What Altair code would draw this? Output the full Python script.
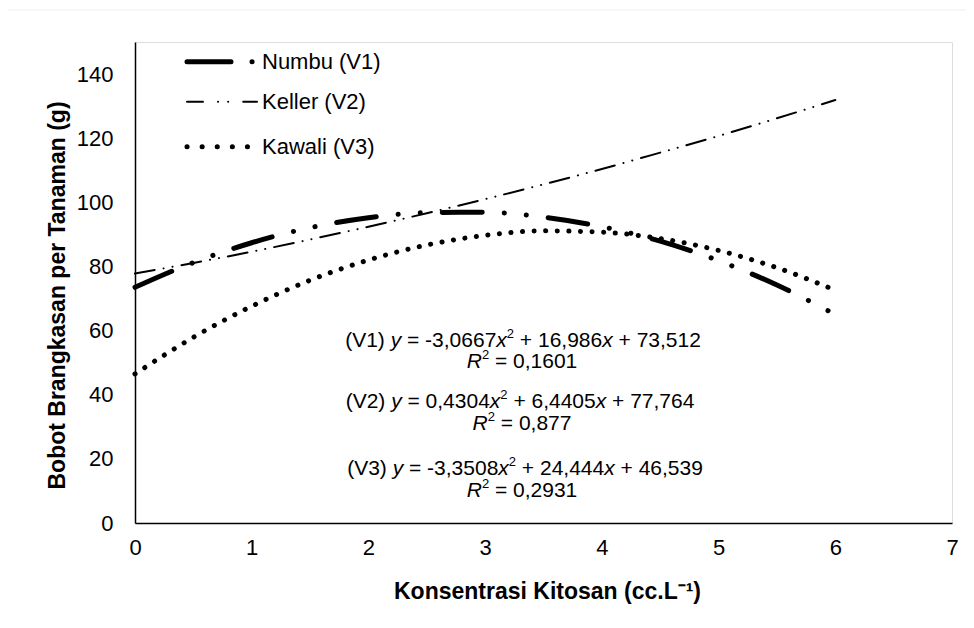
import altair as alt
import pandas as pd

# ---------------- data ----------------
x_vals = [0, 0.5, 1, 1.5, 2, 2.5, 3, 3.5, 4, 4.5, 5, 5.5, 6]
numbu = [73.5, 81.2, 87.4, 92.1, 95.2, 96.8, 96.9, 95.4, 92.4, 87.9, 81.8, 74.2, 65.0]
keller = [77.8, 81.1, 84.6, 88.4, 92.4, 96.6, 101.0, 105.6, 110.4, 115.5, 120.7, 126.2, 131.9]
kawali = [46.5, 57.9, 67.6, 75.7, 82.0, 86.7, 89.7, 91.1, 90.7, 88.7, 85.0, 79.6, 72.6]
series_names = ["Numbu (V1)", "Keller (V2)", "Kawali (V3)"]

x_ticks = [0, 1, 2, 3, 4, 5, 6, 7]
y_ticks = [0, 20, 40, 60, 80, 100, 120, 140]

# equation annotations: (text, style) with n=normal, i=italic, s=superscript
eq_lines = [
    [("(V1) ", "n"), ("y", "i"), (" = -3,0667", "n"), ("x", "i"), ("2", "s"), (" + 16,986", "n"), ("x", "i"), (" + 73,512", "n")],
    [("R", "i"), ("2", "s"), (" = 0,1601", "n")],
    [("(V2) ", "n"), ("y", "i"), (" = 0,4304", "n"), ("x", "i"), ("2", "s"), (" + 6,4405", "n"), ("x", "i"), (" + 77,764", "n")],
    [("R", "i"), ("2", "s"), (" = 0,877", "n")],
    [("(V3) ", "n"), ("y", "i"), (" = -3,3508", "n"), ("x", "i"), ("2", "s"), (" + 24,444", "n"), ("x", "i"), (" + 46,539", "n")],
    [("R", "i"), ("2", "s"), (" = 0,2931", "n")],
]

# ---------------- styling / layout ----------------
W, H = 817, 481
XMAX, YMAX = 7, 150
EQ_SIZE, SUP_SIZE = 21, 13
eq_centers = [(388, 299), (387, 320), (385, 360), (387, 382), (390, 427), (387, 449)]  # plot px
FONT = "Liberation Sans"

line_dash = [[40, 22, 0.1, 22, 0.1, 22], [20, 9, 0.1, 9, 0.1, 9], [0.1, 11.5]]
line_width = [5, 2, 5]
legend_dash = [[44, 21, 0.1, 30], [16, 15, 0.1, 10, 0.1, 15], [0.1, 15]]
legend_rows = [19.7, 59.7, 104.7]

ARIAL = {' ': 278, '(': 333, ')': 333, 'V': 667, '=': 584, '+': 584, '-': 333,
         ',': 278, '.': 278, 'x': 500, 'y': 500, 'R': 722}


def tw(s, size):
    return sum(ARIAL.get(c, 556) for c in s) * size / 1000


seg_rows = []
for segs, (cx, cy) in zip(eq_lines, eq_centers):
    total = sum(tw(t, SUP_SIZE if st == "s" else EQ_SIZE) for t, st in segs)
    px = cx - total / 2
    for t, st in segs:
        size = SUP_SIZE if st == "s" else EQ_SIZE
        py = cy - 7 if st == "s" else cy
        lead = len(t) - len(t.lstrip(" "))
        sx = px + tw(" " * lead, size)
        seg_rows.append({"x": sx * XMAX / W, "y": YMAX - py * YMAX / H,
                         "text": t.strip(" "), "style": st})
        px += tw(t, size)
seg_df = pd.DataFrame(seg_rows)

rows = []
for name, vals in zip(series_names, [numbu, keller, kawali]):
    for xv, yv in zip(x_vals, vals):
        rows.append({"x": xv, "y": yv, "series": name})
df = pd.DataFrame(rows)

xscale = alt.Scale(domain=[0, XMAX], nice=False, zero=False)
yscale = alt.Scale(domain=[0, YMAX], nice=False, zero=False)

xaxis = alt.Axis(values=x_ticks, title="Konsentrasi Kitosan (cc.L⁻¹)", grid=False, ticks=False,
                 domainColor="black", domainWidth=1.5, labelFlush=False, labelOverlap=False,
                 labelFontSize=22, labelFont=FONT, labelColor="black", labelPadding=14,
                 titleFont=FONT, titleFontSize=23, titleFontWeight="bold", titleColor="black",
                 titleX=412, titleY=75, titleBaseline="alphabetic", titleAlign="center")
yaxis = alt.Axis(values=y_ticks, title="Bobot Brangkasan per Tanaman (g)", grid=False, ticks=False,
                 domainColor="black", domainWidth=1.5, labelFlush=False, labelOverlap=False,
                 labelFontSize=22, labelFont=FONT, labelColor="black", labelPadding=22,
                 titleFont=FONT, titleFontSize=23, titleFontWeight="bold", titleColor="black",
                 titleX=-78, titleY=253, titleBaseline="middle", titleAlign="center", titleAngle=270)

X = alt.X("x:Q", scale=xscale, axis=xaxis)
Y = alt.Y("y:Q", scale=yscale, axis=yaxis)

line_layers = []
for name, dash, wdt in zip(series_names, line_dash, line_width):
    line_layers.append(
        alt.Chart(df[df["series"] == name]).mark_line(
            color="black", strokeCap="round", strokeWidth=wdt, strokeDash=dash, interpolate="monotone"
        ).encode(x=X, y=Y))

base_txt = alt.Chart(seg_df)
txt_n = base_txt.transform_filter(alt.datum.style == "n").mark_text(
    align="left", baseline="middle", font=FONT, fontSize=EQ_SIZE, color="black").encode(x=X, y=Y, text="text:N")
txt_i = base_txt.transform_filter(alt.datum.style == "i").mark_text(
    align="left", baseline="middle", font=FONT, fontSize=EQ_SIZE, fontStyle="italic", color="black").encode(x=X, y=Y, text="text:N")
txt_s = base_txt.transform_filter(alt.datum.style == "s").mark_text(
    align="left", baseline="middle", font=FONT, fontSize=SUP_SIZE, color="black").encode(x=X, y=Y, text="text:N")

# legend (drawn as decoration in the top-left corner of the plot)
one = pd.DataFrame({"a": [0]})
legend_layers = []
for name, dash, wdt, ry in zip(series_names, legend_dash, line_width, legend_rows):
    legend_layers.append(
        alt.Chart(one).mark_rule(color="black", strokeWidth=wdt, strokeDash=dash, strokeCap="round").encode(
            x=alt.value(52), x2=alt.value(122), y=alt.value(ry)))
    legend_layers.append(
        alt.Chart(one).mark_text(align="left", baseline="middle", font=FONT, fontSize=22, color="black",
                                 text=name).encode(x=alt.value(127), y=alt.value(ry)))

border = alt.Chart(one).mark_rect(fill="transparent", stroke="#eeeeee", strokeWidth=1).encode(
    x=alt.value(-130), x2=alt.value(845), y=alt.value(-32), y2=alt.value(640))

chart = alt.layer(border, *line_layers, txt_n, txt_i, txt_s, *legend_layers).properties(
    width=W, height=H,
    autosize=alt.AutoSizeParams(type="none"),
    padding={"left": 127, "top": 34, "right": 14, "bottom": 97},
).configure_view(stroke=None).configure(background="white")

chart.save("out.html", embed_options={"renderer": "svg", "actions": False})
